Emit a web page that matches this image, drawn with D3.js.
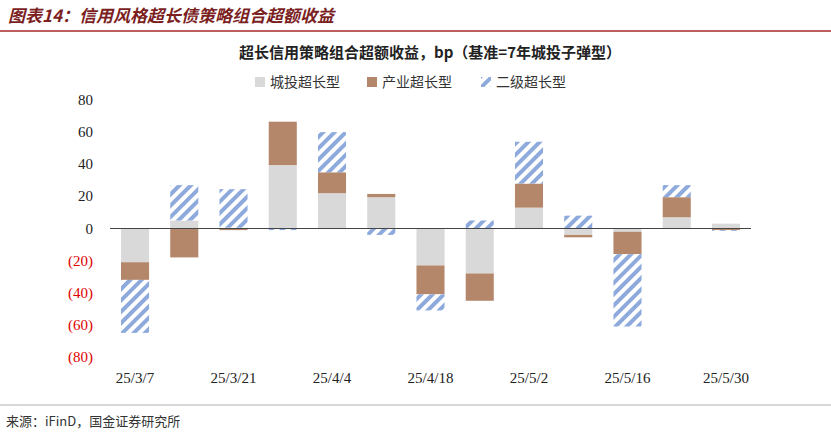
<!DOCTYPE html><html><head><meta charset="utf-8"><script src="https://cdn.jsdelivr.net/npm/d3@7"></script>
<style>body{margin:0;background:#fff}</style></head><body><svg id="c" width="831" height="436"></svg>
<script>
const categories=["25/3/7","25/3/14","25/3/21","25/3/28","25/4/4","25/4/11","25/4/18","25/4/25","25/5/2","25/5/9","25/5/16","25/5/23","25/5/30"];
const tickLabels=["25/3/7","25/3/21","25/4/4","25/4/18","25/5/2","25/5/16","25/5/30"];
const chengtou=[-21,5,0.5,39.5,22,19.5,-23,-28,13,-4,-2,7,3];
const chanye=[-11,-18,-1,27,13,2,-18,-17,15,-1.5,-14,12.5,-1];
const erji=[-33,22,24,-1,25,-4,-10,5,26,8,-45,7.5,-0.5];
const series=[{name:"城投超长型",v:chengtou,fill:"#D9D9D9"},{name:"产业超长型",v:chanye,fill:"#B5876A"},{name:"二级超长型",v:erji,fill:"url(#stripe)"}];
const yTicks=[80,60,40,20,0,-20,-40,-60,-80];
const svg=d3.select("#c");
const defs=svg.append("defs");
const p=defs.append("pattern").attr("id","stripe").attr("patternUnits","userSpaceOnUse").attr("width",8).attr("height",8).attr("patternTransform","rotate(45)");
p.append("rect").attr("width",8).attr("height",8).attr("fill","#fff");
p.append("rect").attr("width",4).attr("height",8).attr("fill","#8EAADC");
svg.append("text").attr("x",8).attr("y",22).attr("font-family","Noto Sans CJK SC").attr("font-size",17).attr("font-weight","bold").attr("font-style","italic").attr("fill","#7B1F1F").text("图表14：信用风格超长债策略组合超额收益");
svg.append("line").attr("x1",0).attr("x2",831).attr("y1",31).attr("y2",31).attr("stroke","#A52A2A").attr("stroke-width",1.5);
svg.append("text").attr("x",430).attr("y",58).attr("text-anchor","middle").attr("font-family","Noto Sans CJK SC").attr("font-size",15).attr("font-weight","bold").attr("fill","#222").text("超长信用策略组合超额收益，bp（基准=7年城投子弹型）");
const x=d3.scaleBand().domain(categories).range([110.4,750.6]).paddingInner(0.43).paddingOuter(0.215);
const y=d3.scaleLinear().domain([-80,80]).range([357,100]);
// stacking
categories.forEach((c,i)=>{let pos=0,neg=0;series.forEach(s=>{const v=s.v[i];let y0,y1;if(v>=0){y0=pos;y1=pos+v;pos=y1}else{y0=neg;y1=neg+v;neg=y1}
svg.append("rect").attr("x",x(c)).attr("width",x.bandwidth()).attr("y",y(Math.max(y0,y1))).attr("height",Math.abs(y(y0)-y(y1))).attr("fill",s.fill);});});
svg.append("line").attr("x1",110).attr("x2",751).attr("y1",y(0)).attr("y2",y(0)).attr("stroke","#444");
const ya=svg.append("g").attr("transform","translate(0,0)");
yTicks.forEach(t=>ya.append("text").attr("x",93).attr("y",y(t)+5).attr("text-anchor","end").attr("font-family","Liberation Serif").attr("font-size",15).attr("fill",t<0?"#E00000":"#222").text(t<0?"("+(-t)+")":t));
tickLabels.forEach(t=>svg.append("text").attr("x",x(t)+x.bandwidth()/2).attr("y",383).attr("text-anchor","middle").attr("font-family","Liberation Serif").attr("font-size",15).attr("fill","#222").text(t));
const lg=svg.append("g");
const lx=[255,367,481];
series.forEach((s,i)=>{lg.append("rect").attr("x",lx[i]).attr("y",77).attr("width",10).attr("height",10).attr("fill",s.fill);lg.append("text").attr("x",lx[i]+15).attr("y",87).attr("font-family","Noto Sans CJK SC").attr("font-size",14).attr("fill","#333").text(s.name);});
svg.append("line").attr("x1",0).attr("x2",831).attr("y1",405).attr("y2",405).attr("stroke","#999").attr("stroke-width",0.8);
svg.append("text").attr("x",6).attr("y",426).attr("font-family","Noto Sans CJK SC").attr("font-size",13).attr("fill","#333").text("来源：iFinD，国金证券研究所");
</script></body></html>
